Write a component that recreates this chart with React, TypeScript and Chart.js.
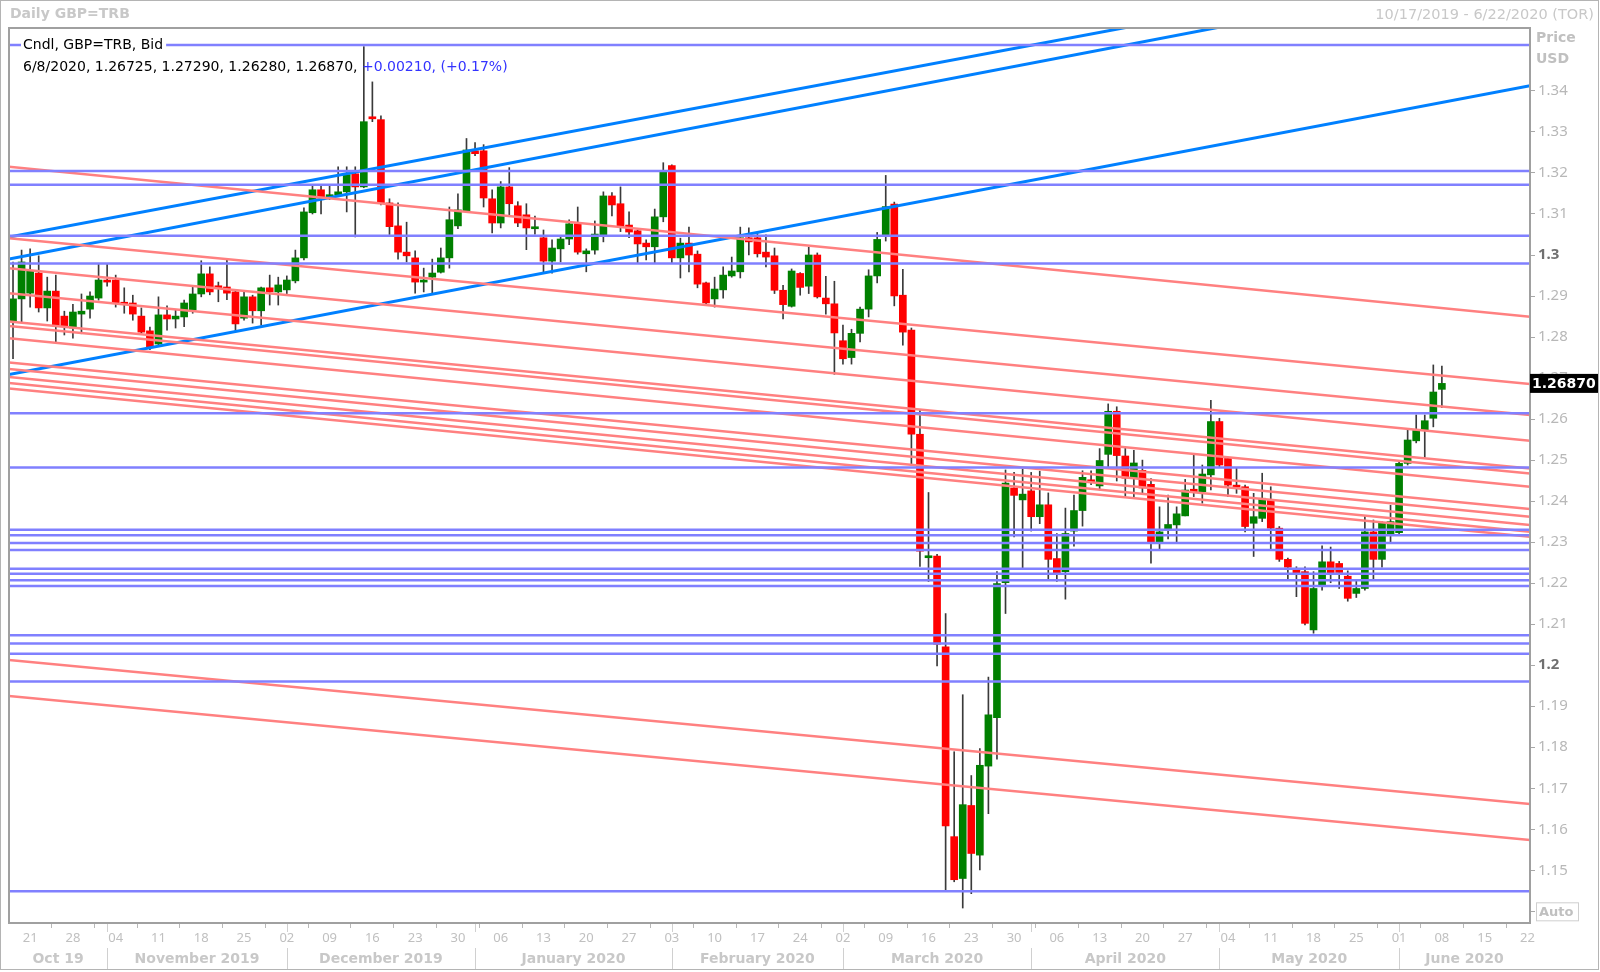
import React, { useEffect, useRef } from 'react';
import { Chart, registerables } from 'chart.js';

Chart.register(...registerables);

// ---- Data (trading-day index 0 = 10/17/2019) ----
const OPEN = [
  1.2839, 1.2893, 1.2907, 1.2956, 1.2871, 1.2912, 1.2851, 1.2822, 1.2856, 1.2868,
  1.2895, 1.2939, 1.2939, 1.2883, 1.2883, 1.2851, 1.2815, 1.2783, 1.2854, 1.2844,
  1.2849, 1.2866, 1.2905, 1.2954, 1.2925, 1.2922, 1.2910, 1.2846, 1.2898, 1.2864,
  1.2920, 1.2910, 1.2915, 1.2937, 1.2993, 1.3103, 1.3159, 1.3142, 1.3147, 1.3154,
  1.3198, 1.3166, 1.3337, 1.3330, 1.3127, 1.3071, 1.3007, 1.2993, 1.2934, 1.2946,
  1.2958, 1.2993, 1.3071, 1.3108, 1.3254, 1.3254, 1.3137, 1.3078, 1.3166, 1.3120,
  1.3098, 1.3064, 1.3042, 1.2985, 1.3015, 1.3039, 1.3076, 1.3003, 1.3012, 1.3049,
  1.3144, 1.3125, 1.3073, 1.3059, 1.3029, 1.3020, 1.3093, 1.3218, 1.2993, 1.3029,
  1.3002, 1.2932, 1.2893, 1.2915, 1.2949, 1.2959, 1.3042, 1.3042, 1.3007, 1.2998,
  1.2914, 1.2875, 1.2955, 1.2924, 1.3000, 1.2895, 1.2881, 1.2791, 1.2750, 1.2809,
  1.2868, 1.2949, 1.3046, 1.3124, 1.2902, 1.2817, 1.2563, 1.2262, 1.2266, 1.2045,
  1.1582, 1.1480, 1.1658, 1.1537, 1.1754, 1.1872, 1.2201, 1.2432, 1.2403, 1.2425,
  1.2362, 1.2391, 1.2260, 1.2228, 1.2327, 1.2377, 1.2452, 1.2437, 1.2514, 1.2619,
  1.2510, 1.2456, 1.2475, 1.2441, 1.2297, 1.2330, 1.2342, 1.2364, 1.2429, 1.2423,
  1.2464, 1.2594, 1.2504, 1.2439, 1.2435, 1.2346, 1.2358, 1.2404, 1.2334, 1.2258,
  1.2232, 1.2228, 1.2086, 1.2196, 1.2252, 1.2248, 1.2217, 1.2175, 1.2187, 1.2325,
  1.2258, 1.2317, 1.2323, 1.2492, 1.2547, 1.2572, 1.2602, 1.26725
];
const HIGH = [
  1.2983, 1.3012, 1.3015, 1.2998, 1.2946, 1.2951, 1.2863, 1.2880, 1.2905, 1.2910,
  1.2979, 1.2979, 1.2951, 1.2920, 1.2902, 1.2871, 1.2824, 1.2898, 1.2876, 1.2866,
  1.2890, 1.2922, 1.2986, 1.2971, 1.2934, 1.2990, 1.2915, 1.2910, 1.2902, 1.2922,
  1.2951, 1.2946, 1.2949, 1.3012, 1.3115, 1.3171, 1.3171, 1.3171, 1.3215, 1.3215,
  1.3215, 1.3508, 1.3422, 1.3339, 1.3137, 1.3127, 1.3080, 1.3010, 1.2968, 1.2990,
  1.3017, 1.3117, 1.3149, 1.3284, 1.3274, 1.3269, 1.3159, 1.3179, 1.3213, 1.3130,
  1.3125, 1.3095, 1.3061, 1.3037, 1.3046, 1.3086, 1.3117, 1.3015, 1.3083, 1.3154,
  1.3152, 1.3166, 1.3105, 1.3061, 1.3037, 1.3112, 1.3225, 1.3220, 1.3041, 1.3068,
  1.3010, 1.2934, 1.2946, 1.2971, 1.2995, 1.3068, 1.3066, 1.3054, 1.3049, 1.3017,
  1.2926, 1.2966, 1.2957, 1.3019, 1.3005, 1.2948, 1.2936, 1.2829, 1.2819, 1.2873,
  1.2964, 1.3055, 1.3194, 1.3129, 1.2965, 1.2822, 1.2624, 1.2421, 1.2270, 1.2126,
  1.1789, 1.1928, 1.1731, 1.1797, 1.1971, 1.2228, 1.2476, 1.2470, 1.2478, 1.2470,
  1.2473, 1.2420, 1.2321, 1.2383, 1.2415, 1.2474, 1.2474, 1.2528, 1.2637, 1.2630,
  1.2530, 1.2524, 1.2500, 1.2455, 1.2386, 1.2415, 1.2386, 1.2453, 1.2512, 1.2488,
  1.2646, 1.2602, 1.2506, 1.2480, 1.2439, 1.2419, 1.2468, 1.2435, 1.2338, 1.2261,
  1.2240, 1.2240, 1.2228, 1.2291, 1.2288, 1.2253, 1.2230, 1.2206, 1.2362, 1.2354,
  1.2350, 1.2390, 1.2499, 1.2573, 1.2610, 1.2610, 1.2732, 1.27290
];
const LOW = [
  1.2747, 1.2837, 1.2873, 1.2861, 1.2839, 1.2788, 1.2805, 1.2797, 1.2808, 1.2846,
  1.2890, 1.2924, 1.2873, 1.2858, 1.2841, 1.2809, 1.2769, 1.2781, 1.2817, 1.2822,
  1.2825, 1.2858, 1.2898, 1.2903, 1.2886, 1.2891, 1.2815, 1.2841, 1.2834, 1.2829,
  1.2878, 1.2878, 1.2906, 1.2932, 1.2988, 1.3100, 1.3100, 1.3135, 1.3142, 1.3105,
  1.3044, 1.3164, 1.3325, 1.3122, 1.3050, 1.2990, 1.2983, 1.2907, 1.2910, 1.2905,
  1.2956, 1.2968, 1.3064, 1.3105, 1.3242, 1.3117, 1.3054, 1.3066, 1.3098, 1.3069,
  1.3013, 1.3051, 1.2959, 1.2956, 1.2983, 1.3025, 1.3002, 1.2959, 1.3002, 1.3032,
  1.3095, 1.3057, 1.3042, 1.2980, 1.2988, 1.2980, 1.3081, 1.2980, 1.2944, 1.2959,
  1.2920, 1.2878, 1.2873, 1.2895, 1.2946, 1.2944, 1.3000, 1.2995, 1.2971, 1.2906,
  1.2844, 1.2873, 1.2902, 1.2906, 1.2895, 1.2856, 1.2709, 1.2734, 1.2734, 1.2788,
  1.2849, 1.2932, 1.3034, 1.2876, 1.2780, 1.2487, 1.2241, 1.2204, 1.1998, 1.1451,
  1.1472, 1.1408, 1.1443, 1.1501, 1.1638, 1.1771, 1.2126, 1.2313, 1.2237, 1.2327,
  1.2345, 1.2210, 1.2204, 1.2161, 1.2290, 1.2339, 1.2440, 1.2427, 1.2483, 1.2449,
  1.2410, 1.2410, 1.2417, 1.2249, 1.2281, 1.2308, 1.2297, 1.2364, 1.2411, 1.2395,
  1.2427, 1.2484, 1.2411, 1.2419, 1.2325, 1.2265, 1.2350, 1.2283, 1.2253, 1.2208,
  1.2167, 1.2098, 1.2078, 1.2183, 1.2201, 1.2187, 1.2156, 1.2165, 1.2183, 1.2208,
  1.2239, 1.2297, 1.2316, 1.2488, 1.2542, 1.2504, 1.2581, 1.26280
];
const CLOSE = [
  1.2893, 1.2983, 1.2961, 1.2871, 1.2912, 1.2827, 1.2827, 1.2861, 1.2863, 1.2900,
  1.2939, 1.2934, 1.2883, 1.2880, 1.2856, 1.2812, 1.2776, 1.2854, 1.2844, 1.2851,
  1.2883, 1.2905, 1.2954, 1.2910, 1.2920, 1.2907, 1.2832, 1.2898, 1.2864, 1.2920,
  1.2910, 1.2927, 1.2939, 1.2993, 1.3105, 1.3159, 1.3139, 1.3147, 1.3154, 1.3196,
  1.3166, 1.3325, 1.3332, 1.3127, 1.3069, 1.3007, 1.2998, 1.2934, 1.2939, 1.2956,
  1.2993, 1.3086, 1.3110, 1.3256, 1.3247, 1.3139, 1.3078, 1.3166, 1.3125, 1.3078,
  1.3066, 1.3068, 1.2985, 1.3017, 1.3039, 1.3076, 1.3007, 1.3010, 1.3051, 1.3144,
  1.3122, 1.3069, 1.3056, 1.3027, 1.3020, 1.3093, 1.3203, 1.2993, 1.3029, 1.3000,
  1.2929, 1.2883, 1.2917, 1.2951, 1.2961, 1.3042, 1.3032, 1.3003, 1.2995, 1.2914,
  1.2879, 1.2961, 1.2921, 1.3000, 1.2898, 1.2881, 1.2810, 1.2747, 1.2809, 1.2868,
  1.2949, 1.3038, 1.3118, 1.2900, 1.2812, 1.2563, 1.2278, 1.2265, 1.2051, 1.1608,
  1.1477, 1.1660, 1.1541, 1.1756, 1.1879, 1.2199, 1.2444, 1.2414, 1.2417, 1.2362,
  1.2391, 1.2258, 1.2225, 1.2321, 1.2377, 1.2458, 1.2447, 1.2499, 1.2619, 1.2511,
  1.2456, 1.2493, 1.2432, 1.2297, 1.2325, 1.2343, 1.2369, 1.2427, 1.2423, 1.2466,
  1.2594, 1.2488, 1.2439, 1.2434, 1.2338, 1.2362, 1.2407, 1.2334, 1.2258, 1.2239,
  1.2225, 1.2102, 1.2187, 1.2252, 1.2225, 1.2226, 1.2163, 1.2187, 1.2325, 1.2258,
  1.2346, 1.2350, 1.2492, 1.2549, 1.2572, 1.2596, 1.2666, 1.26870
];
const LAST_DATE = '6/8/2020';

// x axis (trading-day index)
const X_MIN = -0.47;
const X_MAX = 177.3;
const DAY_TICK_INDEX = [2, 7, 12, 17, 22, 27, 32, 37, 42, 47, 52, 57, 62, 67, 72, 77, 82, 87,
  92, 97, 102, 107, 112, 117, 122, 127, 132, 137, 142, 147, 152, 157, 162, 167, 172, 177];
const DAY_TICK_LABELS = ['21', '28', '04', '11', '18', '25', '02', '09', '16', '23', '30', '06',
  '13', '20', '27', '03', '10', '17', '24', '02', '09', '16', '23', '30', '06', '13', '20', '27',
  '04', '11', '18', '25', '01', '08', '15', '22'];
const MONTH_LABELS = ['Oct 19', 'November 2019', 'December 2019', 'January 2020', 'February 2020',
  'March 2020', 'April 2020', 'May 2020', 'June 2020'];
const MONTH_START_INDEX = [11, 32, 54, 77, 97, 119, 141, 162];

// y axis
const Y_MIN = 1.13715;
const Y_MAX = 1.35534;
const Y_TICKS = [1.14, 1.15, 1.16, 1.17, 1.18, 1.19, 1.2, 1.21, 1.22, 1.23, 1.24, 1.25, 1.26,
  1.27, 1.28, 1.29, 1.3, 1.31, 1.32, 1.33, 1.34];
const Y_TICK_LABELS = ['', '1.15', '1.16', '1.17', '1.18', '1.19', '1.2', '1.21', '1.22', '1.23',
  '1.24', '1.25', '1.26', '1.27', '1.28', '1.29', '1.3', '1.31', '1.32', '1.33', '1.34'];

// drawn studies
const H_LEVELS = [1.3512, 1.3205, 1.3171, 1.3047, 1.2979, 1.2614, 1.2482, 1.2330, 1.2317, 1.2298,
  1.2281, 1.2235, 1.2223, 1.2207, 1.2193, 1.2073, 1.2053, 1.2028, 1.1960, 1.1449];
// value at X_MIN / value at X_MAX
const RED_LINES_START = [1.32153, 1.30407, 1.29676, 1.29066, 1.28379, 1.28269, 1.27969, 1.27379,
  1.27221, 1.27026, 1.26880, 1.26745, 1.20127, 1.19249];
const RED_LINES_END = [1.28496, 1.26855, 1.26099, 1.25473, 1.24795, 1.24673, 1.24352, 1.23808,
  1.23620, 1.23418, 1.23254, 1.23133, 1.16616, 1.15739];
const BLUE_TRENDS_START = [1.3044, 1.2990, 1.27087];
const BLUE_TRENDS_END = [1.37394, 1.37005, 1.34127];

const FONT = "'DejaVu Sans', Verdana, sans-serif";
const AXIS_FONT = "'Noto Sans', 'DejaVu Sans', sans-serif";

export default function App() {
  const ref = useRef<HTMLCanvasElement | null>(null);

  useEffect(() => {
    const canvas = ref.current;
    if (!canvas) return;

    const lineDatasets: any[] = [];
    H_LEVELS.forEach((v) => {
      lineDatasets.push({
        type: 'line',
        data: [{ x: X_MIN, y: v }, { x: X_MAX, y: v }],
        borderColor: 'rgb(128,128,255)',
        borderWidth: 2.5,
        pointRadius: 0,
        order: 0,
      });
    });
    RED_LINES_START.forEach((v, i) => {
      lineDatasets.push({
        type: 'line',
        data: [{ x: X_MIN, y: v }, { x: X_MAX, y: RED_LINES_END[i] }],
        borderColor: 'rgb(255,128,128)',
        borderWidth: 2.5,
        pointRadius: 0,
        order: 0,
      });
    });
    BLUE_TRENDS_START.forEach((v, i) => {
      lineDatasets.push({
        type: 'line',
        data: [{ x: X_MIN, y: v }, { x: X_MAX, y: BLUE_TRENDS_END[i] }],
        borderColor: 'rgb(0,128,255)',
        borderWidth: 3,
        pointRadius: 0,
        order: 0,
      });
    });

    const bodyColors = OPEN.map((o, i) => (CLOSE[i] >= o ? '#008000' : '#ff0000'));

    const decor = {
      id: 'decor',
      beforeDraw(chart: any) {
        const ctx = chart.ctx;
        ctx.save();
        ctx.fillStyle = '#ffffff';
        ctx.fillRect(0, 0, chart.width, chart.height);
        ctx.restore();
      },
      afterDraw(chart: any) {
        const ctx = chart.ctx;
        const { left, top, right, bottom } = chart.chartArea;
        const xs = chart.scales.x;
        const ys = chart.scales.y;
        ctx.save();

        // outer frame
        ctx.strokeStyle = '#b4b4b4';
        ctx.lineWidth = 1;
        ctx.strokeRect(0.5, 0.5, 1598, 969);

        // plot frame
        ctx.strokeStyle = '#a0a0a0';
        ctx.lineWidth = 2;
        ctx.strokeRect(left, top, right - left, bottom - top);

        // title & range
        ctx.textBaseline = 'middle';
        ctx.fillStyle = '#c8c8c8';
        ctx.font = `bold 14px ${FONT}`;
        ctx.textAlign = 'left';
        ctx.fillText('Daily GBP=TRB', 10, 14);
        ctx.font = `14.5px ${FONT}`;
        ctx.textAlign = 'right';
        ctx.fillText('10/17/2019 - 6/22/2020 (TOR)', 1594, 15);

        // axis captions
        ctx.textAlign = 'left';
        ctx.font = `bold 14px ${FONT}`;
        ctx.fillStyle = '#c0c0c0';
        ctx.fillText('Price', 1536, 38);
        ctx.fillText('USD', 1536, 59);

        // Auto box at bottom tick
        const ya = ys.getPixelForValue(Y_TICKS[0]);
        ctx.strokeStyle = '#cfcfcf';
        ctx.lineWidth = 1;
        ctx.strokeRect(1536.5, ya - 8.5, 42, 18);
        ctx.fillStyle = '#c0c0c0';
        ctx.font = `bold 13px ${FONT}`;
        ctx.fillText('Auto', 1539, ya + 1);

        // last price box
        const last = CLOSE.length - 1;
        const yp = ys.getPixelForValue(CLOSE[last]);
        ctx.fillStyle = '#000000';
        ctx.fillRect(right, yp - 9.5, 68, 19);
        ctx.fillStyle = '#ffffff';
        ctx.font = `bold 14px ${FONT}`;
        ctx.fillText(CLOSE[last].toFixed(5), right + 2, yp + 0.5);

        // legend
        ctx.font = `14px ${FONT}`;
        const l1 = 'Cndl, GBP=TRB, Bid';
        const w1 = ctx.measureText(l1).width;
        ctx.fillStyle = '#ffffff';
        ctx.fillRect(21, 37, w1 + 5, 16);
        ctx.fillStyle = '#000000';
        ctx.fillText(l1, 23, 45);
        const chg = CLOSE[last] - CLOSE[last - 1];
        const pct = (chg / CLOSE[last - 1]) * 100;
        const p1 = `${LAST_DATE}, ${OPEN[last].toFixed(5)}, ${HIGH[last].toFixed(5)}, ${LOW[last].toFixed(5)}, ${CLOSE[last].toFixed(5)}, `;
        ctx.fillText(p1, 23, 67);
        const wp = ctx.measureText(p1).width;
        ctx.fillStyle = '#3333ff';
        ctx.fillText(`${chg >= 0 ? '+' : ''}${chg.toFixed(5)}, (${pct >= 0 ? '+' : ''}${pct.toFixed(2)}%)`, 23 + wp, 67);

        // month boundaries and labels
        ctx.strokeStyle = '#d0d0d0';
        ctx.lineWidth = 1;
        MONTH_START_INDEX.forEach((m) => {
          const px = Math.round(xs.getPixelForValue(m)) + 0.5;
          ctx.beginPath();
          ctx.moveTo(px, bottom + 1);
          ctx.lineTo(px, bottom + 9);
          ctx.moveTo(px, bottom + 25);
          ctx.lineTo(px, 969);
          ctx.stroke();
        });
        ctx.fillStyle = '#c8c8c8';
        ctx.font = `bold 14px ${FONT}`;
        ctx.textAlign = 'center';
        MONTH_LABELS.forEach((lab, k) => {
          const a = k === 0 ? X_MIN : MONTH_START_INDEX[k - 1];
          const b = k === MONTH_LABELS.length - 1 ? X_MAX : MONTH_START_INDEX[k];
          ctx.fillText(lab, xs.getPixelForValue((a + b) / 2), 959);
        });
        ctx.restore();
      },
    };

    const chart = new Chart(canvas, {
      type: 'bar',
      data: {
        datasets: [
          ...lineDatasets,
          {
            type: 'bar',
            data: OPEN.map((o, i) => ({ x: i, y: [o, CLOSE[i]] })),
            backgroundColor: bodyColors,
            barThickness: 7,
            minBarLength: 2,
            grouped: false,
            order: 1,
          },
          {
            type: 'bar',
            data: LOW.map((l, i) => ({ x: i, y: [l, HIGH[i]] })),
            backgroundColor: '#3a3a3a',
            barThickness: 1,
            grouped: false,
            order: 2,
          },
        ] as any,
      },
      options: {
        responsive: false,
        animation: false,
        events: [],
        layout: { padding: { left: 9, top: 28, right: 0, bottom: 0 } },
        plugins: { legend: { display: false }, tooltip: { enabled: false } },
        scales: {
          x: {
            type: 'linear',
            min: X_MIN,
            max: X_MAX,
            offset: false,
            border: { display: false },
            grid: { drawOnChartArea: false, drawTicks: true, tickLength: 5, color: '#b8b8b8' },
            afterBuildTicks: (s: any) => {
              s.ticks = DAY_TICK_INDEX.map((v) => ({ value: v }));
            },
            afterFit: (s: any) => {
              s.height = 49;
              s.paddingLeft = 0;
              s.paddingRight = 0;
            },
            ticks: {
              autoSkip: false,
              maxRotation: 0,
              minRotation: 0,
              padding: 2,
              color: '#c0c0c0',
              font: { family: AXIS_FONT, size: 13 },
              callback: (_v: any, i: number) => DAY_TICK_LABELS[i],
            },
          },
          y: {
            type: 'linear',
            position: 'right',
            min: Y_MIN,
            max: Y_MAX,
            border: { display: false },
            grid: { drawOnChartArea: false, drawTicks: true, tickLength: 5, color: '#a8a8a8' },
            afterBuildTicks: (s: any) => {
              s.ticks = Y_TICKS.map((v) => ({ value: v }));
            },
            afterFit: (s: any) => {
              s.width = 70;
              s.paddingTop = 0;
              s.paddingBottom = 0;
            },
            ticks: {
              padding: 3,
              autoSkip: false,
              color: (c: any) => (Y_TICK_LABELS[c.index] === '1.3' || Y_TICK_LABELS[c.index] === '1.2' ? '#707070' : '#b8b8b8'),
              font: (c: any) => ({
                family: AXIS_FONT,
                size: 15,
                weight: Y_TICK_LABELS[c.index] === '1.3' || Y_TICK_LABELS[c.index] === '1.2' ? 'bold' : 'normal',
              }),
              callback: (_v: any, i: number) => Y_TICK_LABELS[i],
            },
          },
        },
      } as any,
      plugins: [decor],
    });

    return () => chart.destroy();
  }, []);

  return (
    <div style={{ position: 'fixed', left: 0, top: 0, width: 1600, height: 972, background: '#fff' }}>
      <canvas ref={ref} width={1600} height={972} style={{ width: 1600, height: 972, display: 'block' }} />
    </div>
  );
}
